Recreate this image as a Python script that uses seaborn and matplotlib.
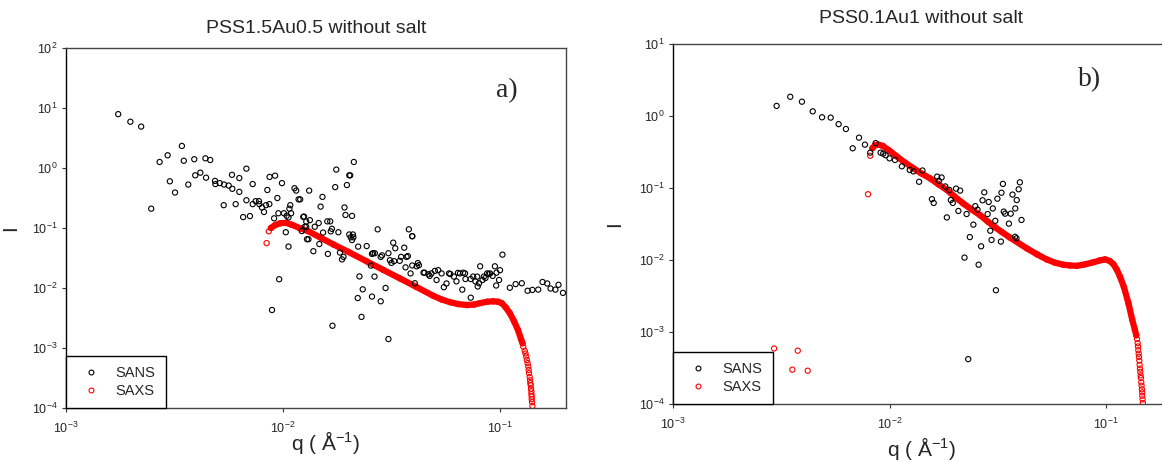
import numpy as np
import pandas as pd
import matplotlib
matplotlib.use("Agg")
import matplotlib.pyplot as plt
from matplotlib.lines import Line2D
from matplotlib.ticker import LogLocator, NullLocator
import seaborn as sns

# ---- panel a) PSS1.5Au0.5 ----
a_sans_q = [1.74e-3, 1.98e-3, 2.22e-3, 2.47e-3, 2.70e-3, 2.94e-3, 3.01e-3, 3.18e-3, 3.42e-3, 3.49e-3,
            3.66e-3, 3.90e-3, 3.94e-3, 4.16e-3, 4.39e-3, 4.42e-3, 4.62e-3, 4.86e-3, 4.88e-3, 5.11e-3,
            5.33e-3, 5.35e-3, 5.62e-3, 5.82e-3, 5.84e-3, 6.05e-3, 6.29e-3, 6.29e-3, 6.55e-3, 6.78e-3,
            6.78e-3, 7.04e-3, 7.25e-3, 7.25e-3, 7.48e-3, 7.75e-3, 7.78e-3, 8.0e-3, 8.17e-3, 8.35e-3,
            8.47e-3, 8.65e-3, 8.67e-3, 8.9e-3, 9.1e-3, 9.19e-3, 9.42e-3, 9.52e-3, 9.6e-3, 9.89e-3,
            1.01e-2, 1.03e-2, 1.04e-2, 1.06e-2, 1.06e-2, 1.07e-2, 1.08e-2, 1.09e-2, 1.13e-2, 1.15e-2,
            1.18e-2, 1.2e-2, 1.22e-2, 1.24e-2, 1.25e-2, 1.26e-2, 1.28e-2, 1.28e-2, 1.29e-2, 1.31e-2,
            1.32e-2, 1.33e-2, 1.38e-2, 1.40e-2, 1.46e-2, 1.47e-2, 1.49e-2, 1.52e-2, 1.53e-2, 1.60e-2,
            1.61e-2, 1.65e-2, 1.66e-2, 1.68e-2, 1.69e-2, 1.74e-2, 1.76e-2, 1.80e-2, 1.83e-2, 1.87e-2,
            1.90e-2, 1.92e-2, 1.94e-2, 1.97e-2, 2.02e-2, 2.02e-2, 2.04e-2, 2.05e-2, 2.08e-2, 2.08e-2,
            2.10e-2, 2.11e-2, 2.12e-2, 2.21e-2, 2.22e-2, 2.25e-2, 2.30e-2, 2.33e-2, 2.43e-2, 2.54e-2,
            2.57e-2, 2.57e-2, 2.60e-2, 2.65e-2, 2.64e-2, 2.73e-2, 2.82e-2, 2.82e-2, 2.86e-2, 2.97e-2,
            3.06e-2, 3.06e-2, 3.11e-2, 3.16e-2, 3.22e-2, 3.25e-2, 3.29e-2, 3.45e-2, 3.50e-2, 3.62e-2,
            3.67e-2, 3.71e-2, 3.76e-2, 3.80e-2, 3.87e-2, 3.94e-2, 3.94e-2, 3.94e-2, 4.05e-2, 4.13e-2,
            4.18e-2, 4.23e-2, 4.44e-2, 4.49e-2, 4.68e-2, 4.74e-2, 4.83e-2, 5.01e-2, 5.10e-2, 5.19e-2,
            5.38e-2, 5.51e-2, 5.67e-2, 5.82e-2, 5.90e-2, 6.13e-2, 6.30e-2, 6.40e-2, 6.54e-2, 6.70e-2,
            6.77e-2, 6.90e-2, 6.93e-2, 7.33e-2, 7.33e-2, 7.52e-2, 7.70e-2, 7.85e-2, 7.89e-2, 8.00e-2,
            8.10e-2, 8.30e-2, 8.43e-2, 8.57e-2, 8.72e-2, 8.87e-2, 9.00e-2, 9.25e-2, 9.47e-2, 9.60e-2,
            9.63e-2, 9.90e-2, 0.100, 0.1026, 0.111, 0.118, 0.126, 0.134, 0.141, 0.150,
            0.157, 0.165, 0.171, 0.180, 0.186, 0.195]
a_sans_i = [7.9, 5.9, 4.9, 0.21, 1.26, 1.63, 0.60, 0.39, 2.33, 1.32,
            0.53, 1.40, 0.755, 0.836, 1.45, 0.69, 1.36, 0.61, 0.54, 0.56,
            0.24, 0.53, 0.51, 0.77, 0.45, 0.25, 0.68, 0.40, 0.152, 0.975,
            0.29, 0.158, 0.54, 0.25, 0.28, 0.28, 0.25, 0.22, 0.185, 0.24,
            0.43, 0.25, 0.71, 4.3e-3, 0.145, 0.745, 0.316, 0.176, 0.014, 0.56,
            0.176, 0.085, 0.16, 0.15, 0.049, 0.21, 0.24, 0.176, 0.46, 0.42,
            0.30, 0.30, 0.089, 0.153, 0.155, 0.105, 0.128, 0.105, 0.065, 0.065,
            0.42, 0.135, 0.041, 0.105, 0.121, 0.054, 0.227, 0.33, 0.084, 0.129,
            0.037, 0.129, 0.088, 0.097, 2.35e-3, 0.48, 0.94, 0.085, 0.039, 0.030,
            0.033, 0.22, 0.165, 0.52, 0.755, 0.078, 0.755, 0.070, 0.159, 0.063,
            0.078, 0.070, 1.26, 6.8e-3, 0.049, 0.0156, 3.3e-3, 9.5e-3, 0.050, 0.0236,
            7.2e-3, 0.037, 0.038, 0.038, 0.0155, 0.095, 0.033, 6.0e-3, 0.035, 0.0100,
            1.41e-3, 0.038, 0.029, 0.0262, 0.057, 0.028, 0.046, 0.0284, 0.033, 0.047,
            0.0221, 0.033, 0.034, 0.095, 0.0175, 0.073, 0.073, 0.0237, 0.0120, 0.023,
            0.026, 0.024, 0.018, 0.018, 0.0169, 0.0159, 0.0175, 0.0193, 0.0136, 0.0198,
            0.0175, 0.0103, 0.0119, 0.0175, 0.0171, 0.0155, 0.0129, 0.0179, 0.0175, 9.4e-3,
            0.018, 0.0175, 0.0141, 6.9e-3, 0.0141, 0.0155, 0.0129, 0.0155, 0.0106, 0.012,
            0.023, 0.0136, 0.0155, 0.0147, 0.0175, 0.0171, 0.0175, 0.0159, 0.023, 0.011,
            0.018, 0.0136, 0.0198, 0.036, 0.0101, 0.0116, 0.012, 9.0e-3, 9.3e-3, 9.4e-3,
            0.0126, 0.0119, 9.8e-3, 9.4e-3, 0.0113, 8.3e-3]
# SAXS split into isolated low-q points, the dense band, and the steep tail
a_saxs_low_q = [8.4e-3, 8.6e-3]
a_saxs_low_i = [0.056, 0.088]
a_saxs_band_q = [8.8e-3, 9.2e-3, 9.7e-3, 1.03e-2, 1.1e-2, 1.2e-2, 1.32e-2, 1.5e-2, 1.71e-2, 2.0e-2,
                 2.43e-2, 2.9e-2, 3.45e-2, 4.1e-2, 4.93e-2, 5.4e-2, 5.89e-2, 6.4e-2, 7.03e-2, 7.6e-2,
                 8.1e-2, 8.7e-2, 9.3e-2, 9.8e-2, 0.1018, 0.106, 0.111, 0.116, 0.121, 0.125]
a_saxs_band_i = [0.10, 0.112, 0.12, 0.122, 0.113, 0.099, 0.087, 0.068, 0.053, 0.040,
                 0.0278, 0.020, 0.0145, 0.0105, 7.4e-3, 6.4e-3, 5.8e-3, 5.4e-3, 5.2e-3, 5.3e-3,
                 5.6e-3, 5.9e-3, 6.0e-3, 5.9e-3, 5.6e-3, 4.8e-3, 3.8e-3, 2.8e-3, 2.0e-3, 1.4e-3]
a_saxs_tail_q = [0.127, 0.128, 0.130, 0.131, 0.132, 0.133, 0.134, 0.135, 0.1355, 0.136,
                 0.137, 0.1375, 0.138, 0.1385, 0.139, 0.1395, 0.1395, 0.140, 0.140, 0.1405, 0.141]
a_saxs_tail_i = [1.2e-3, 1.05e-3, 9.0e-4, 8.1e-4, 7.2e-4, 6.3e-4, 5.6e-4, 4.9e-4, 4.3e-4, 3.8e-4,
                 3.3e-4, 2.9e-4, 2.6e-4, 2.4e-4, 2.1e-4, 1.9e-4, 1.7e-4, 1.55e-4, 1.4e-4, 1.25e-4, 1.08e-4]

# ---- panel b) PSS0.1Au1 ----
b_sans_q = [3.01e-3, 3.48e-3, 3.94e-3, 4.42e-3, 4.88e-3, 5.35e-3, 5.82e-3, 6.29e-3, 6.76e-3, 7.23e-3,
            7.7e-3, 8.15e-3, 8.63e-3, 9.1e-3, 9.35e-3, 9.6e-3, 1.0e-2, 1.06e-2, 1.14e-2, 1.24e-2,
            1.29e-2, 1.37e-2, 1.42e-2, 1.57e-2, 1.60e-2, 1.66e-2, 1.69e-2, 1.74e-2, 1.81e-2, 1.84e-2,
            1.89e-2, 1.92e-2, 1.96e-2, 2.03e-2, 2.08e-2, 2.12e-2, 2.22e-2, 2.27e-2, 2.31e-2, 2.35e-2,
            2.44e-2, 2.49e-2, 2.55e-2, 2.58e-2, 2.65e-2, 2.69e-2, 2.74e-2, 2.84e-2, 2.87e-2, 2.92e-2,
            2.96e-2, 3.0e-2, 3.08e-2, 3.10e-2, 3.15e-2, 3.27e-2, 3.29e-2, 3.34e-2, 3.37e-2, 3.42e-2,
            3.56e-2, 3.63e-2, 3.70e-2, 3.80e-2, 3.81e-2, 3.86e-2, 3.87e-2, 3.95e-2, 4.0e-2, 4.07e-2]
b_sans_i = [1.38, 1.85, 1.58, 1.16, 0.96, 0.95, 0.77, 0.66, 0.356, 0.50,
            0.40, 0.31, 0.42, 0.31, 0.30, 0.285, 0.258, 0.245, 0.20, 0.178,
            0.17, 0.122, 0.175, 0.070, 0.062, 0.144, 0.126, 0.140, 0.105, 0.039,
            0.094, 0.068, 0.062, 0.098, 0.048, 0.092, 0.0108, 0.0435, 4.2e-4, 0.0208,
            0.031, 0.056, 0.050, 8.6e-3, 0.0155, 0.0675, 0.087, 0.0435, 0.064, 0.0255,
            0.019, 0.052, 0.035, 3.8e-3, 0.071, 0.018, 0.086, 0.114, 0.047, 0.044,
            0.032, 0.044, 0.081, 0.021, 0.052, 0.020, 0.068, 0.096, 0.12, 0.036]
b_saxs_low_q = [1.25e-3, 2.93e-3, 3.56e-3, 3.77e-3, 4.19e-3, 7.96e-3, 8.15e-3]
b_saxs_low_i = [1.02e-4, 5.9e-4, 3.0e-4, 5.5e-4, 2.9e-4, 0.082, 0.28]
b_saxs_band_q = [8.33e-3, 8.6e-3, 8.9e-3, 9.3e-3, 1.0e-2, 1.08e-2, 1.18e-2, 1.29e-2, 1.4e-2, 1.54e-2,
                 1.68e-2, 1.84e-2, 2.0e-2, 2.19e-2, 2.4e-2, 2.62e-2, 2.85e-2, 3.1e-2, 3.3e-2, 3.6e-2,
                 4.31e-2, 4.8e-2, 5.32e-2, 5.8e-2, 6.35e-2, 6.8e-2, 7.33e-2, 8.0e-2, 8.75e-2, 9.4e-2,
                 0.099, 0.104, 0.108, 0.112, 0.116, 0.121, 0.127, 0.132, 0.136]
b_saxs_band_i = [0.356, 0.395, 0.40, 0.385, 0.33, 0.275, 0.225, 0.188, 0.16, 0.136,
                 0.113, 0.094, 0.076, 0.061, 0.050, 0.042, 0.034, 0.028, 0.0245, 0.0205,
                 0.0145, 0.012, 0.0102, 9.2e-3, 8.6e-3, 8.4e-3, 8.3e-3, 8.7e-3, 9.3e-3, 9.9e-3,
                 0.0102, 9.7e-3, 8.8e-3, 7.4e-3, 5.9e-3, 4.2e-3, 2.5e-3, 1.5e-3, 1.07e-3]
b_saxs_tail_q = [0.138, 0.139, 0.140, 0.1405, 0.141, 0.1415, 0.142, 0.1425, 0.143, 0.1435,
                 0.144, 0.1445, 0.145, 0.1455, 0.146, 0.1465, 0.147, 0.147, 0.1475, 0.148]
b_saxs_tail_i = [9.0e-4, 8.0e-4, 7.0e-4, 6.3e-4, 5.6e-4, 5.0e-4, 4.5e-4, 4.0e-4, 3.5e-4, 3.1e-4,
                 2.8e-4, 2.5e-4, 2.3e-4, 2.0e-4, 1.8e-4, 1.6e-4, 1.45e-4, 1.3e-4, 1.16e-4, 1.03e-4]

sns.set_style("ticks")
plt.rcParams['font.family'] = ['Liberation Sans', 'DejaVu Sans']
plt.rcParams['mathtext.fontset'] = 'custom'
plt.rcParams['mathtext.rm'] = 'Liberation Sans'
plt.rcParams['mathtext.it'] = 'Liberation Sans:italic'
plt.rcParams['mathtext.bf'] = 'Liberation Sans:bold'

fig = plt.figure(figsize=(11.62, 4.61), dpi=100)
ax1 = fig.add_axes([66 / 1162, 53 / 461, 500 / 1162, 360 / 461])
ax2 = fig.add_axes([673 / 1162, 57 / 461, 497 / 1162, 360 / 461])


def draw_panel(ax, sans_q, sans_i, low, band, tail, xlim, ylim, title, tag, tagpos, title_pad,
               ylab_x, xlab_xy):
    sans = pd.DataFrame({'q': sans_q, 'I': sans_i})
    saxs = pd.DataFrame({'q': low[0] + band[0] + tail[0], 'I': low[1] + band[1] + tail[1]})
    # the dense SAXS band drawn as a thick line under its markers
    band_df = pd.DataFrame({'q': band[0] + tail[0][:1], 'I': band[1] + tail[1][:1]})
    sns.lineplot(data=band_df, x='q', y='I', ax=ax, color='red', lw=4.5, sort=False,
                 estimator=None, legend=False, zorder=2)
    sns.scatterplot(data=saxs, x='q', y='I', ax=ax, marker='o', s=14, color='red',
                    facecolor='none', edgecolor='red', linewidths=0.8, zorder=3)
    sns.scatterplot(data=sans, x='q', y='I', ax=ax, marker='o', s=14, color='black',
                    facecolor='none', edgecolor='black', linewidths=0.8, zorder=4)
    ax.set_xscale('log')
    ax.set_yscale('log')
    ax.set_xlim(*xlim)
    ax.set_ylim(*ylim)
    ax.xaxis.set_major_locator(LogLocator(base=10, numticks=20))
    ax.yaxis.set_major_locator(LogLocator(base=10, numticks=20))
    ax.xaxis.set_minor_locator(NullLocator())
    ax.yaxis.set_minor_locator(NullLocator())
    ax.tick_params(axis='both', direction='out', length=3, width=0.8, labelsize=9, color='#333333')
    ax.tick_params(axis='x', pad=6)
    ax.tick_params(axis='y', pad=3)
    for side in ['top', 'right', 'bottom']:
        ax.spines[side].set_color('#444444')
        ax.spines[side].set_linewidth(1.0)
    ax.spines['left'].set_color('black')
    ax.spines['left'].set_linewidth(1.0)
    ax.set_title(title, fontsize=14, pad=title_pad)
    ax.set_ylabel('I', fontsize=15)
    ax.yaxis.set_label_coords(ylab_x, 0.5)
    ax.set_xlabel('q ( Å$^{-1}$)', fontsize=15)
    ax.xaxis.set_label_coords(*xlab_xy)
    ax.text(tagpos[0], tagpos[1], tag, transform=ax.transAxes, fontsize=20,
            family='Liberation Serif', ha='center', va='center')
    handles = [Line2D([], [], ls='none', marker='o', ms=3.5, mfc='none', mec='black', mew=0.8),
               Line2D([], [], ls='none', marker='o', ms=3.5, mfc='none', mec='red', mew=0.8)]
    leg = ax.legend(handles, ['SANS', 'SAXS'], loc='lower left', bbox_to_anchor=(0, 0),
                    borderaxespad=0, fancybox=False, framealpha=1, edgecolor='black',
                    fontsize=10.5, labelspacing=0.25, borderpad=0.7, handlelength=2.0,
                    handletextpad=0.7)
    leg.get_frame().set_linewidth(1.0)
    leg.set_zorder(10)


draw_panel(ax1, a_sans_q, a_sans_i, (a_saxs_low_q, a_saxs_low_i), (a_saxs_band_q, a_saxs_band_i),
           (a_saxs_tail_q, a_saxs_tail_i), (1e-3, 0.2014), (1e-4, 1e2),
           'PSS1.5Au0.5 without salt', 'a)', (0.882, 0.883), 11, -0.092, (0.52, -0.058))
draw_panel(ax2, b_sans_q, b_sans_i, (b_saxs_low_q, b_saxs_low_i), (b_saxs_band_q, b_saxs_band_i),
           (b_saxs_tail_q, b_saxs_tail_i), (1e-3, 0.1975), (1e-4, 1e1),
           'PSS0.1Au1 without salt', 'b)', (0.839, 0.90), 15, -0.099, (0.50, -0.086))

fig.savefig('out.png', dpi=100)
